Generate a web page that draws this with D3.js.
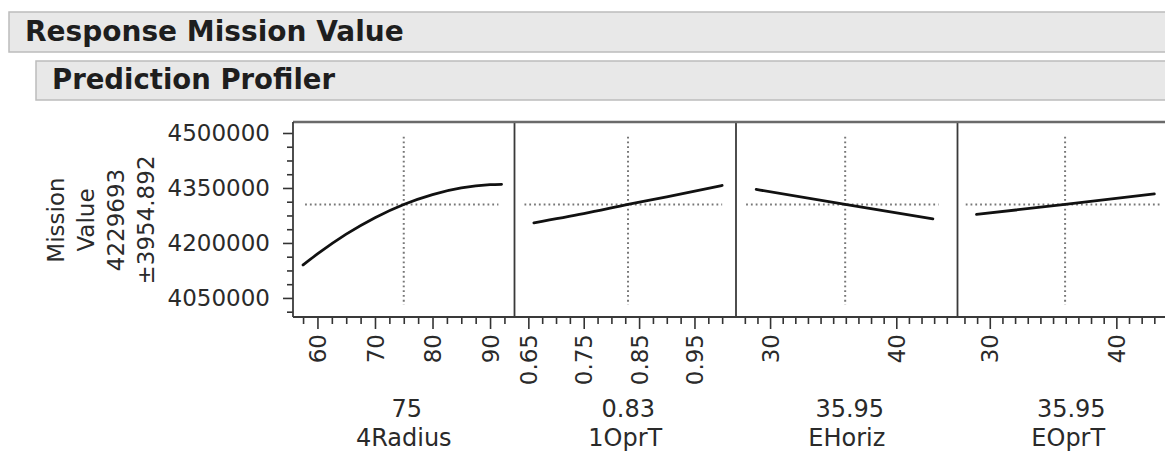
<!DOCTYPE html>
<meta charset="utf-8">
<script src="https://d3js.org/d3.v7.min.js"></script>
<style>
body { margin: 0; background: white; }
text { font-family: "DejaVu Sans", sans-serif; fill: #2a2a2a; }
</style>
<div id="my_dataviz"></div>
<script>

// factors shown in the profiler
var factorNames = ["4Radius", "1OprT", "EHoriz", "EOprT"];
var currentValues = [75, 0.83, 35.95, 35.95];
var currentLabels = ["75", "0.83", "35.95", "35.95"];
var axisRanges = [[55.75, 94.25], [0.625, 1.025], [27.3, 44.85], [27.45, 44.95]];
var majorTicks = [[60, 70, 80, 90], [0.65, 0.75, 0.85, 0.95], [30, 40], [30, 40]];
var minorTicks = [
  [57.5, 62.5, 65, 67.5, 72.5, 75, 77.5, 82.5, 85, 87.5, 92.5],
  [0.675, 0.7, 0.725, 0.775, 0.8, 0.825, 0.875, 0.9, 0.925, 0.975, 1.0],
  [28, 29, 31, 32, 33, 34, 35, 36, 37, 38, 39, 41, 42, 43, 44],
  [28, 29, 31, 32, 33, 34, 35, 36, 37, 38, 39, 41, 42, 43, 44]
];
var tickFormats = ["d", ".2f", "d", "d"];

// profile traces
var curveX = [
  [57.5, 60, 65, 70, 75, 80, 85, 90, 92],
  [0.66, 0.75, 0.83, 0.9, 1.0],
  [28.9, 35.95, 42.9],
  [28.95, 35.95, 43.0]
];
var curveY = [
  [4140000, 4170000, 4224000, 4269000, 4305000, 4332000, 4350000, 4359000, 4360000],
  [4255000, 4280000, 4305000, 4326000, 4357000],
  [4346000, 4305000, 4266000],
  [4278000, 4305000, 4334000]
];
var refLineX = [[57.85, 91.45], [0.643, 1.0], [28.1, 43.35], [28.1, 43.5]];

// response axis
var yRange = [3998000, 4530000];
var yMajor = [4050000, 4200000, 4350000, 4500000];
var yMinor = [4012500, 4087500, 4125000, 4162500, 4237500, 4275000, 4312500, 4387500, 4425000, 4462500];
var predicted = 4305000;
var crossYRange = [4031000, 4490000];
var yTitle = ["Mission", "Value", "4229693", "\u00b13954.892"];
var headers = ["Response Mission Value", "Prediction Profiler"];

var W = 1165, H = 451;
var plotLeft = 293, plotTop = 122, plotBottom = 317, panelW = 221.5;

var svg = d3.select("#my_dataviz")
  .append("svg")
    .attr("width", W)
    .attr("height", H);

// outline headers
svg.append("rect").attr("x", 9).attr("y", 12).attr("width", 1180).attr("height", 40)
  .attr("fill", "#e8e8e8").attr("stroke", "#bcbcbc").attr("stroke-width", 1.5);
svg.append("text").attr("x", 25).attr("y", 41).text(headers[0])
  .style("font-size", "28px").style("font-weight", "bold").style("fill", "#1e1e1e");
svg.append("rect").attr("x", 36).attr("y", 61).attr("width", 1150).attr("height", 39)
  .attr("fill", "#e8e8e8").attr("stroke", "#bcbcbc").attr("stroke-width", 1.5);
svg.append("text").attr("x", 52).attr("y", 89).text(headers[1])
  .style("font-size", "27.5px").style("font-weight", "bold").style("fill", "#1e1e1e");

// Y scale + axis
var y = d3.scaleLinear().domain(yRange).range([plotBottom, plotTop]);

var yAxis = svg.append("g")
  .attr("transform", "translate(" + plotLeft + ",0)")
  .call(d3.axisLeft(y).tickValues(yMajor).tickSize(10).tickFormat(d3.format("d")));
yAxis.select(".domain").remove();
yAxis.selectAll("line").attr("stroke", "#333").attr("stroke-width", 1.6);
yAxis.selectAll("text").attr("x", -23).style("font-size", "23px")
  .style("font-family", "DejaVu Sans").attr("fill", "#2a2a2a");

var yAxisMinor = svg.append("g")
  .attr("transform", "translate(" + plotLeft + ",0)")
  .call(d3.axisLeft(y).tickValues(yMinor).tickSize(6).tickFormat(""));
yAxisMinor.select(".domain").remove();
yAxisMinor.selectAll("line").attr("stroke", "#333").attr("stroke-width", 1.6);

// Y title, four rotated lines
var titleG = svg.append("g");
yTitle.forEach(function(t, i) {
  titleG.append("text")
    .attr("transform", "translate(" + (64 + i * 30) + "," + 220 + ") rotate(-90)")
    .attr("text-anchor", "middle")
    .style("font-size", "23px")
    .text(t);
});

// panels
var line = d3.line().curve(d3.curveMonotoneX);

factorNames.forEach(function(name, i) {
  var x0 = plotLeft + i * panelW;
  var x = d3.scaleLinear().domain(axisRanges[i]).range([x0, x0 + panelW]);

  var g = svg.append("g");

  // minor ticks
  var minor = g.append("g")
    .attr("transform", "translate(0," + plotBottom + ")")
    .call(d3.axisBottom(x).tickValues(minorTicks[i]).tickSize(7).tickFormat(""));
  minor.select(".domain").remove();
  minor.selectAll("line").attr("stroke", "#333").attr("stroke-width", 1.6);

  // major ticks with rotated labels
  var major = g.append("g")
    .attr("transform", "translate(0," + plotBottom + ")")
    .call(d3.axisBottom(x).tickValues(majorTicks[i]).tickSize(12).tickFormat(d3.format(tickFormats[i])));
  major.select(".domain").remove();
  major.selectAll("line").attr("stroke", "#333").attr("stroke-width", 1.6);
  major.selectAll("text")
    .attr("y", 0).attr("dy", "0.35em")
    .attr("transform", "translate(0,17) rotate(-90)")
    .attr("text-anchor", "end")
    .style("font-size", "23px")
    .style("font-family", "DejaVu Sans")
    .attr("fill", "#2a2a2a");

  // reference lines (dotted)
  g.append("line")
    .attr("x1", x(refLineX[i][0])).attr("x2", x(refLineX[i][1]))
    .attr("y1", y(predicted)).attr("y2", y(predicted))
    .attr("stroke", "#777").attr("stroke-width", 2).attr("stroke-dasharray", "1.8,3");
  g.append("line")
    .attr("x1", x(currentValues[i])).attr("x2", x(currentValues[i]))
    .attr("y1", y(crossYRange[1])).attr("y2", y(crossYRange[0]))
    .attr("stroke", "#777").attr("stroke-width", 2).attr("stroke-dasharray", "1.8,3");

  // profile trace
  var pts = curveX[i].map(function(v, k) { return [x(v), y(curveY[i][k])]; });
  g.append("path")
    .attr("d", line(pts))
    .attr("fill", "none")
    .attr("stroke", "#111")
    .attr("stroke-width", 2.8)
    .attr("stroke-linecap", "round");

  // current value + factor name
  g.append("text")
    .attr("x", x0 + panelW / 2 + 3).attr("y", 417)
    .attr("text-anchor", "middle").style("font-size", "24px")
    .text(currentLabels[i]);
  g.append("text")
    .attr("x", x0 + panelW / 2).attr("y", 446)
    .attr("text-anchor", "middle").style("font-size", "24px")
    .text(name);

  // panel separator
  if (i > 0) {
    g.append("line")
      .attr("x1", x0).attr("x2", x0)
      .attr("y1", plotTop).attr("y2", plotBottom)
      .attr("stroke", "#3a3a3a").attr("stroke-width", 1.8);
  }
});

// frame
svg.append("line").attr("x1", plotLeft).attr("x2", W + 20).attr("y1", plotTop).attr("y2", plotTop)
  .attr("stroke", "#6a6a6a").attr("stroke-width", 2.4);
svg.append("line").attr("x1", plotLeft).attr("x2", W + 20).attr("y1", plotBottom).attr("y2", plotBottom)
  .attr("stroke", "#3a3a3a").attr("stroke-width", 1.8);
svg.append("line").attr("x1", plotLeft).attr("x2", plotLeft).attr("y1", plotTop).attr("y2", plotBottom)
  .attr("stroke", "#3a3a3a").attr("stroke-width", 1.8);

</script>
